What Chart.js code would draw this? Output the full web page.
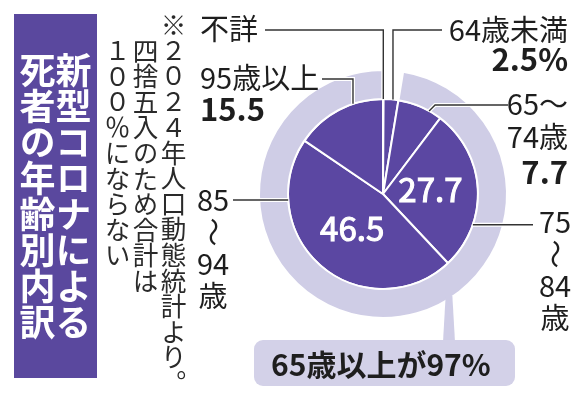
<!DOCTYPE html>
<html lang="ja">
<head>
<meta charset="utf-8">
<script src="https://cdn.jsdelivr.net/npm/chart.js@4.4.1/dist/chart.umd.min.js"></script>
<style>
html,body{margin:0;padding:0;background:#fff;}
#wrap{position:relative;width:586px;height:400px;overflow:hidden;font-family:"Noto Sans CJK JP","Noto Sans",sans-serif;}
#c{position:absolute;left:0;top:0;}
#title{position:absolute;left:14px;top:14px;width:83px;height:364px;background:#5a489e;color:#fff;display:flex;align-items:center;justify-content:center;}
#title div{writing-mode:vertical-rl;font-size:36px;line-height:36px;font-weight:700;white-space:nowrap;}
#note{position:absolute;left:103px;top:12px;height:392px;writing-mode:vertical-rl;font-size:25.6px;line-height:28px;color:#2a2a2a;white-space:nowrap;padding-inline-start:1em;text-indent:-1em;}
#pointer{position:absolute;left:443px;top:296px;width:12px;height:46px;background:#cfcde6;clip-path:polygon(22% 0,78% 0,100% 100%,0 100%);}
#callout{position:absolute;left:254px;top:340px;width:261px;height:46px;background:#d3d1e8;border-radius:9px;display:flex;align-items:center;padding-left:17px;box-sizing:border-box;font-size:30px;color:#1e1e1e;font-weight:700;white-space:nowrap;}
</style>
</head>
<body>
<div id="wrap">
  <canvas id="c" width="586" height="400"></canvas>
  <div id="title"><div>新型コロナによる<br>死者の年齢別内訳</div></div>
  <div id="note">※２０２４年人口動態統計より。<br>四捨五入のため合計は<br>１００％にならない</div>
  <div id="pointer"></div>
  <div id="callout"></div>
</div>
<script>
// ---- data ----
const categories = ['不詳', '64歳未満', '65～74歳', '75～84歳', '85～94歳', '95歳以上'];
const shares     = [0.1, 2.5, 7.7, 27.7, 46.5, 15.5];
const over65     = [false, false, true, true, true, true];
const showValue  = [false, true, true, true, true, true];
const calloutPrefix = '65歳以上が';

// ---- derived ----
const ringValues = [
  shares.filter((v, i) => !over65[i]).reduce((a, b) => a + b, 0),
  shares.filter((v, i) => over65[i]).reduce((a, b) => a + b, 0)
];
const firstShown = showValue.indexOf(true);
const valueLabels = shares.map((v, i) => showValue[i] ? v.toFixed(1) + (i === firstShown ? '%' : '') : '');
document.getElementById('callout').textContent = calloutPrefix + Math.round(ringValues[1]) + '%';

// ---- style / layout (not data) ----
const PURPLE = '#5b47a2';
const RING = '#cfcde6';
const INK = '#1e1e1e';
const NAME_FONT = '400 29px "Noto Sans CJK JP"';
const VALUE_FONT = '700 31px "Noto Sans CJK JP"';
const INNER_FONT = '400 33px "Noto Sans CJK JP"';

const labelLayout = [
  { mode: 'inline', x: 200, align: 'left',  y: 29, leader: { at: 0.5,  kind: 'vh', y: 30, x: 265 } },
  { mode: 'inline', x: 568, align: 'right', y: 30, valueY: 59, leader: { at: 0.63, kind: 'vh', y: 30, x: 442 } },
  { mode: 'wrap',   x: 568, align: 'right', y: 104, pitch: 33, valueY: 172, leader: { at: 0.71, kind: 'dh', y: 105, x: 508 } },
  { mode: 'stack',  x: 555, align: 'center', y: 222, pitch: 32, inside: true, leader: { at: 0.72, kind: 'h', x: 533 } },
  { mode: 'stack',  x: 213, align: 'center', y: 200, pitch: 32, inside: true, leader: { at: 0.774, kind: 'h', x: 233 } },
  { mode: 'inline', x: 200, align: 'left',  y: 78, valueY: 109, leader: { at: 0.67, kind: 'vh', y: 79, x: 322 } }
];

function splitName(name, mode) {
  if (mode === 'wrap') return name.split(/(?<=～)/);
  if (mode === 'stack') return name.match(/\d+|～|[^\d～]+/g);
  return [name];
}

const labelPlugin = {
  id: 'labels',
  afterDatasetsDraw(chart) {
    const ctx = chart.ctx;
    const meta = chart.getDatasetMeta(1);
    meta.data.forEach((arc, i) => {
      const p = arc.getProps(['x', 'y', 'startAngle', 'endAngle', 'outerRadius'], true);
      const lay = labelLayout[i];
      // leader line
      const L = lay.leader;
      const a = p.startAngle + (p.endAngle - p.startAngle) * L.at;
      const x0 = p.x + p.outerRadius * Math.cos(a);
      const y0 = p.y + p.outerRadius * Math.sin(a);
      const pts = [[x0, y0]];
      if (L.kind === 'vh') { pts.push([x0, L.y], [L.x, L.y]); }
      else if (L.kind === 'h') { pts.push([L.x, y0]); }
      else if (L.kind === 'dh') { const d = y0 - L.y; pts.push([x0 + Math.sign(L.x - x0) * d, L.y], [L.x, L.y]); }
      ctx.save();
      ctx.lineJoin = 'miter';
      [['#ffffff', 4], ['#333333', 1.4]].forEach(([col, w]) => {
        ctx.strokeStyle = col; ctx.lineWidth = w;
        ctx.beginPath();
        pts.forEach((q, k) => k ? ctx.lineTo(q[0], q[1]) : ctx.moveTo(q[0], q[1]));
        ctx.stroke();
      });
      // names
      ctx.fillStyle = INK;
      ctx.textBaseline = 'middle';
      ctx.textAlign = lay.align;
      ctx.font = NAME_FONT;
      const parts = splitName(categories[i], lay.mode);
      parts.forEach((t, k) => {
        const ty = lay.y + k * (lay.pitch || 0);
        if (t === '～' && lay.mode === 'stack') {
          ctx.save();
          ctx.translate(lay.x, ty);
          ctx.rotate(Math.PI / 2);
          ctx.textAlign = 'center';
          ctx.fillText(t, 0, 0);
          ctx.restore();
        } else {
          ctx.fillText(t, lay.x, ty);
        }
      });
      // values
      if (valueLabels[i]) {
        if (lay.inside) {
          const pos = arc.tooltipPosition(true);
          ctx.fillStyle = '#ffffff';
          ctx.strokeStyle = '#ffffff';
          ctx.lineWidth = 1.1;
          ctx.font = INNER_FONT;
          ctx.textAlign = 'center';
          ctx.fillText(valueLabels[i], pos.x, pos.y - 2);
          ctx.strokeText(valueLabels[i], pos.x, pos.y - 2);
        } else {
          ctx.fillStyle = INK;
          ctx.font = VALUE_FONT;
          ctx.fillText(valueLabels[i], lay.x, lay.valueY);
        }
      }
      ctx.restore();
    });
  }
};

new Chart(document.getElementById('c'), {
  type: 'pie',
  data: {
    labels: categories,
    datasets: [
      {
        data: ringValues,
        backgroundColor: ['rgba(0,0,0,0)', RING],
        borderColor: '#ffffff',
        borderWidth: [0, 2],
        weight: 29
      },
      {
        data: shares,
        backgroundColor: PURPLE,
        borderColor: '#ffffff',
        borderWidth: 2,
        weight: 95
      }
    ]
  },
  options: {
    responsive: false,
    animation: false,
    rotation: 0,
    layout: { padding: { left: 258, top: 69, right: 78, bottom: 81 } },
    plugins: { legend: { display: false }, tooltip: { enabled: false } }
  },
  plugins: [labelPlugin]
});
</script>
</body>
</html>
